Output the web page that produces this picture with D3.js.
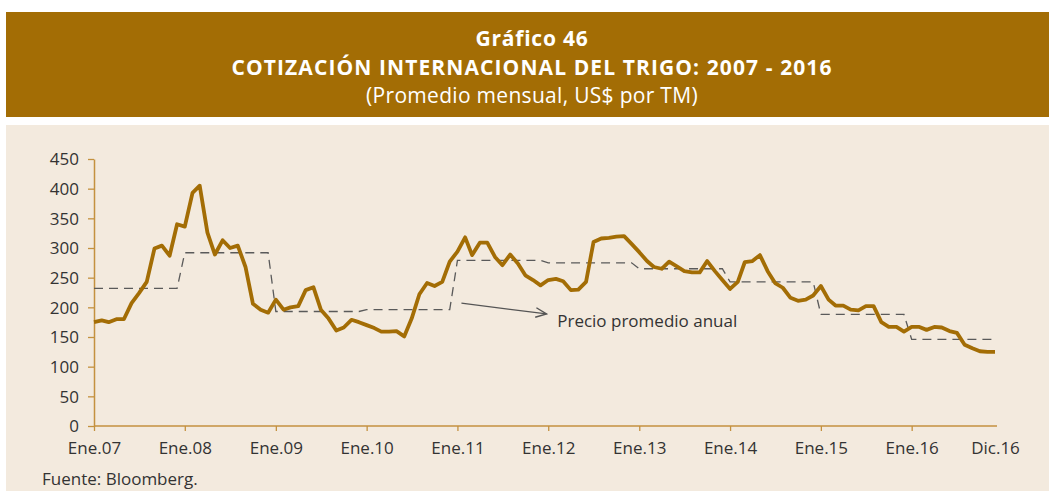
<!DOCTYPE html>
<html>
<head>
<meta charset="utf-8">
<script src="https://cdn.jsdelivr.net/npm/d3@7/dist/d3.min.js"></script>
<style>
  body { margin: 0; background: #fff; }
  svg { display: block; font-family: "Open Sans", "Noto Sans", sans-serif; }
</style>
</head>
<body>
<div id="chart"></div>
<script>
// monthly wheat price, US$ per TM, Jan 2007 .. Dec 2016
var prices = [
  175, 178, 175, 180, 180, 207, 224, 243, 299, 304, 287, 340,
  336, 393, 405, 326, 289, 313, 300, 304, 268, 206, 196, 191,
  213, 196, 200, 202, 229, 234, 196, 181, 161, 166, 179, 175,
  170, 165, 159, 159, 160, 151, 181, 222, 241, 236, 243, 277,
  294, 318, 288, 309, 309, 285, 271, 289, 274, 254, 246, 237,
  246, 248, 244, 229, 230, 243, 310, 316, 317, 319, 320, 307,
  293, 278, 268, 265, 277, 269, 261, 259, 259, 278, 261, 246,
  231, 243, 276, 278, 288, 261, 241, 233, 216, 211, 213, 220,
  236, 213, 203, 203, 196, 195, 202, 202, 175, 167, 167, 159,
  167, 167, 162, 167, 166, 160, 157, 137, 131, 126, 125, 125
]
var years = [2007, 2008, 2009, 2010, 2011, 2012, 2013, 2014, 2015, 2016]
var annualAvg = [232, 292, 193, 196, 279, 275, 265, 243, 188, 146]
var xLabels = ["Ene.07", "Ene.08", "Ene.09", "Ene.10", "Ene.11", "Ene.12",
               "Ene.13", "Ene.14", "Ene.15", "Ene.16", "Dic.16"]
var yTicks = [0, 50, 100, 150, 200, 250, 300, 350, 400, 450]

var width = 1049, height = 491
var gold = "#A36D05"
var axisColor = "#C4913F"
var textColor = "#333333"
var fontFam = "'Open Sans', 'Noto Sans', sans-serif"

var months = prices.map(function (v, i) { return new Date(2007, i, 1) })
var monthly = prices.map(function (v, i) { return { date: months[i], value: v } })
var annual = months.map(function (d) {
  return { date: d, value: annualAvg[years.indexOf(d.getFullYear())] }
})

var svg = d3.select("#chart").append("svg")
  .attr("width", width).attr("height", height)

// header band
svg.append("rect").attr("x", 6).attr("y", 12).attr("width", width - 6).attr("height", 105)
  .attr("fill", gold)
var header = svg.append("g").attr("fill", "#fff").attr("text-anchor", "middle")
header.append("text").attr("x", 532).attr("y", 46)
  .attr("font-size", 21).attr("font-weight", "bold").attr("letter-spacing", 0.8)
  .text("Gráfico 46")
header.append("text").attr("x", 532).attr("y", 75)
  .attr("font-size", 21).attr("font-weight", "bold").attr("letter-spacing", 1.1)
  .text("COTIZACIÓN INTERNACIONAL DEL TRIGO: 2007 - 2016")
header.append("text").attr("x", 532).attr("y", 103)
  .attr("font-size", 21).attr("letter-spacing", 0.3)
  .text("(Promedio mensual, US$ por TM)")

// panel
svg.append("rect").attr("x", 6).attr("y", 125).attr("width", width - 6).attr("height", height - 125)
  .attr("fill", "#F3EADE")

var x = d3.scaleTime()
  .domain([months[0], months[months.length - 1]])
  .range([94, 995])
var y = d3.scaleLinear().domain([0, 450]).range([426, 159])

// axes
var xTickDates = years.map(function (yr) { return new Date(yr, 0, 1) })
xTickDates.push(months[months.length - 1])
var xAxis = svg.append("g")
  .attr("transform", "translate(0," + y(0) + ")")
  .call(d3.axisBottom(x).tickValues(xTickDates).tickSize(5).tickSizeOuter(0)
    .tickFormat(function (d, i) { return xLabels[i] }))
xAxis.select(".domain").attr("stroke", axisColor).attr("stroke-width", 1.5)
  .attr("d", "M94,0H997")
xAxis.selectAll(".tick line").attr("stroke", axisColor).attr("stroke-width", 1.3)
xAxis.selectAll(".tick").filter(function (d, i) { return i === xTickDates.length - 1 })
  .select("line").remove()
xAxis.selectAll("text").attr("fill", textColor).attr("font-size", 17)
  .attr("font-family", fontFam).attr("dy", 0).attr("y", 28)

var yAxis = svg.append("g")
  .attr("transform", "translate(94,0)")
  .call(d3.axisLeft(y).tickValues(yTicks).tickSize(6).tickSizeOuter(0))
yAxis.select(".domain").attr("stroke", axisColor).attr("stroke-width", 1.5)
yAxis.selectAll(".tick line").attr("stroke", axisColor).attr("stroke-width", 1.3)
yAxis.selectAll("text").attr("fill", textColor).attr("font-size", 17)
  .attr("font-family", fontFam).attr("x", -15).attr("dy", "0.34em")

var line = d3.line()
  .x(function (d) { return x(d.date) })
  .y(function (d) { return y(d.value) })

svg.append("path").datum(annual)
  .attr("fill", "none").attr("stroke", "#5a5a5a").attr("stroke-width", 1.3)
  .attr("stroke-dasharray", "9,6")
  .attr("d", line)

svg.append("path").datum(monthly)
  .attr("fill", "none").attr("stroke", gold).attr("stroke-width", 3.8)
  .attr("stroke-linejoin", "round")
  .attr("d", line)

// annotation
svg.append("defs").append("marker")
  .attr("id", "arrow").attr("viewBox", "0 0 10 10").attr("refX", 9).attr("refY", 5)
  .attr("markerWidth", 10).attr("markerHeight", 10).attr("orient", "auto")
  .append("path").attr("d", "M0,1 L9,5 L0,9").attr("fill", "none")
  .attr("stroke", "#555").attr("stroke-width", 1.2)
svg.append("line")
  .attr("x1", x(new Date(2011, 0, 1)) + 4).attr("y1", y(207))
  .attr("x2", x(new Date(2011, 11, 1)) + 6).attr("y2", y(189))
  .attr("stroke", "#555").attr("stroke-width", 1.2)
  .attr("marker-end", "url(#arrow)")
svg.append("text")
  .attr("x", x(new Date(2012, 0, 1)) + 9).attr("y", y(167))
  .attr("font-size", 17).attr("fill", textColor)
  .text("Precio promedio anual")

svg.append("text").attr("x", 42).attr("y", 485)
  .attr("font-size", 17).attr("fill", textColor)
  .text("Fuente: Bloomberg.")
</script>
</body>
</html>
